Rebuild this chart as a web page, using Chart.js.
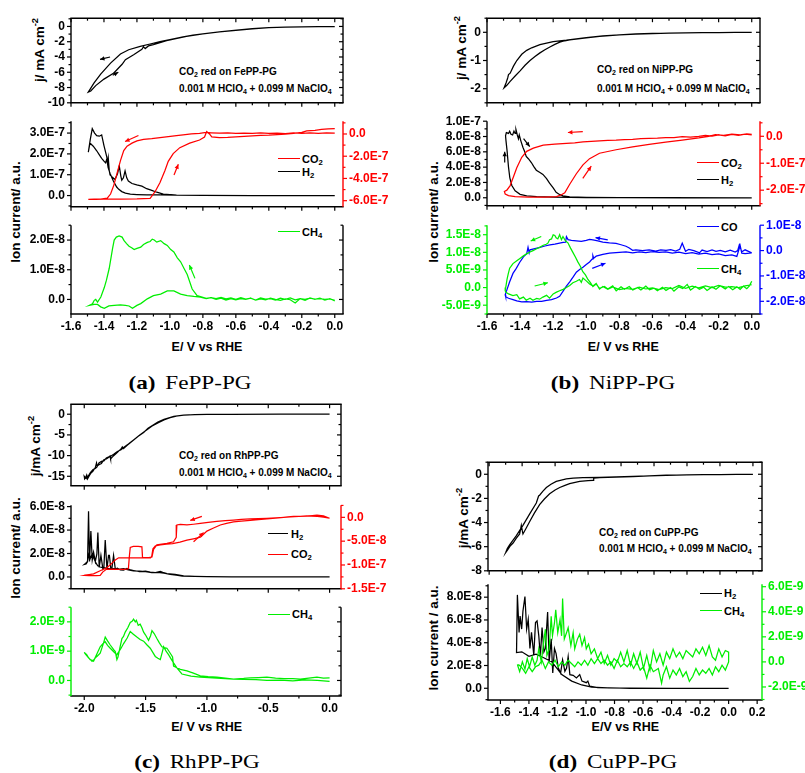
<!DOCTYPE html>
<html>
<head>
<meta charset="utf-8">
<script src="https://cdn.jsdelivr.net/npm/chart.js@4.4.1/dist/chart.umd.min.js"></script>
<style>
  body { margin: 0; width: 805px; height: 773px; position: relative; overflow: hidden; background: #fff;
         font-family: "Liberation Sans", Arial, Helvetica, sans-serif; }
  canvas { position: absolute; }
  .t { position: absolute; font-weight: bold; white-space: nowrap; color: #000; }
  .a10 { font-size: 10px; line-height: 14px; }
  .lgt { font-size: 11px; line-height: 14px; }
  .rot { font-size: 13.5px; transform: translate(-50%, -50%) rotate(-90deg); }
  .xt { font-size: 12.5px; transform: translate(-50%, -50%); }
  .cap { position: absolute; white-space: nowrap; font-family: "Liberation Serif", "Times New Roman", serif;
         font-size: 19px; transform: translate(-50%, -50%) scaleX(1.22); }
  .lg { position: absolute; height: 0; width: 22px; }
  sub { font-size: 70%; vertical-align: -0.25em; line-height: 0; }
  sup { font-size: 70%; vertical-align: 0.55em; line-height: 0; }
</style>
</head>
<body>

<!-- annotations in the current panels -->
<div class="t a10" style="left:179px;top:65px">CO<sub>2</sub> red on FePP-PG</div>
<div class="t a10" style="left:179px;top:82px">0.001 M HClO<sub>4</sub> + 0.099 M NaClO<sub>4</sub></div>
<div class="t a10" style="left:597px;top:63px">CO<sub>2</sub> red on NiPP-PG</div>
<div class="t a10" style="left:597px;top:81.5px">0.001 M HClO<sub>4</sub> + 0.099 M NaClO<sub>4</sub></div>
<div class="t a10" style="left:179px;top:449px">CO<sub>2</sub> red on RhPP-PG</div>
<div class="t a10" style="left:179px;top:466.3px">0.001 M HClO<sub>4</sub> + 0.099 M NaClO<sub>4</sub></div>
<div class="t a10" style="left:599px;top:525.7px">CO<sub>2</sub> red on CuPP-PG</div>
<div class="t a10" style="left:599px;top:542.3px">0.001 M HClO<sub>4</sub> + 0.099 M NaClO<sub>4</sub></div>

<!-- legends -->
<div class="lg" style="left:278px;top:158.4px;border-top:1.3px solid #ff0000"></div>
<div class="t lgt" style="left:302px;top:152px">CO<sub>2</sub></div>
<div class="lg" style="left:278px;top:171.4px;border-top:1.3px solid #000"></div>
<div class="t lgt" style="left:302px;top:165px">H<sub>2</sub></div>
<div class="lg" style="left:278px;top:231.4px;border-top:1.3px solid #00ee00"></div>
<div class="t lgt" style="left:302px;top:225px">CH<sub>4</sub></div>

<div class="lg" style="left:697px;top:162.4px;border-top:1.3px solid #ff0000"></div>
<div class="t lgt" style="left:721px;top:156px">CO<sub>2</sub></div>
<div class="lg" style="left:697px;top:179.4px;border-top:1.3px solid #000"></div>
<div class="t lgt" style="left:721px;top:173px">H<sub>2</sub></div>
<div class="lg" style="left:697px;top:226px;border-top:1.3px solid #0000ff"></div>
<div class="t lgt" style="left:721px;top:219.7px">CO</div>
<div class="lg" style="left:697px;top:268.4px;border-top:1.3px solid #00ee00"></div>
<div class="t lgt" style="left:721px;top:262px">CH<sub>4</sub></div>

<div class="lg" style="left:268px;top:533.4px;width:20px;border-top:1.3px solid #000"></div>
<div class="t lgt" style="left:291px;top:527px">H<sub>2</sub></div>
<div class="lg" style="left:268px;top:553.7px;width:20px;border-top:1.3px solid #ff0000"></div>
<div class="t lgt" style="left:291px;top:547.3px">CO<sub>2</sub></div>
<div class="lg" style="left:268px;top:613.7px;border-top:1.3px solid #00ee00"></div>
<div class="t lgt" style="left:292px;top:607.3px">CH<sub>4</sub></div>

<div class="lg" style="left:700px;top:592.7px;border-top:1.3px solid #000"></div>
<div class="t lgt" style="left:724px;top:586.3px">H<sub>2</sub></div>
<div class="lg" style="left:700px;top:610px;border-top:1.3px solid #00ee00"></div>
<div class="t lgt" style="left:724px;top:603.7px">CH<sub>4</sub></div>

<!-- axis titles -->
<div class="t rot" style="left:39px;top:50px">j/ mA cm<sup>-2</sup></div>
<div class="t rot" style="left:15px;top:212px">Ion current/ a.u.</div>
<div class="t rot" style="left:460.7px;top:48px">j/ mA cm<sup>-2</sup></div>
<div class="t rot" style="left:433px;top:212px">Ion current/ a.u.</div>
<div class="t rot" style="left:35px;top:446px">j/mA cm<sup>-2</sup></div>
<div class="t rot" style="left:15px;top:548px">Ion current/ a.u.</div>
<div class="t rot" style="left:463.3px;top:518px">j/mA cm<sup>-2</sup></div>
<div class="t rot" style="left:433.3px;top:638px">Ion current / a.u.</div>

<div class="t xt" style="left:207px;top:346.7px">E/ V vs RHE</div>
<div class="t xt" style="left:623.3px;top:346.7px">E/ V vs RHE</div>
<div class="t xt" style="left:206.7px;top:726.7px">E/ V vs RHE</div>
<div class="t xt" style="left:625.3px;top:727.3px">E/V vs RHE</div>

<!-- captions -->
<div class="cap" style="left:190px;top:382.7px"><b>(a)</b><span style="margin-left:8px">FePP-PG</span></div>
<div class="cap" style="left:613.3px;top:382.7px"><b>(b)</b><span style="margin-left:8px">NiPP-PG</span></div>
<div class="cap" style="left:196.7px;top:761.7px"><b>(c)</b><span style="margin-left:8px">RhPP-PG</span></div>
<div class="cap" style="left:613px;top:761.7px"><b>(d)</b><span style="margin-left:8px">CuPP-PG</span></div>

<script>
const RED = '#ff0000', GREEN = '#00ee00', BLUE = '#0000ff', BLACK = '#000000';
const FONT = '"Liberation Sans", Arial, Helvetica, sans-serif';

// ---------- tick labels ----------
const xTicksAB = [-1.6, -1.4, -1.2, -1.0, -0.8, -0.6, -0.4, -0.2, 0.0];
const xTicksC = [-2.0, -1.5, -1.0, -0.5, 0.0];
const xTicksD = [-1.6, -1.4, -1.2, -1.0, -0.8, -0.6, -0.4, -0.2, 0.0, 0.2];
const aTopTicks = [0, -2, -4, -6, -8, -10];
const aMidLTicks = [0, 1e-7, 2e-7, 3e-7];
const aMidRTicks = [0, -2e-7, -4e-7, -6e-7];
const aBotTicks = [0, 1e-8, 2e-8];
const bTopTicks = [0, -1, -2];
const bMidLTicks = [0, 2e-8, 4e-8, 6e-8, 8e-8, 1e-7];
const bMidRTicks = [0, -1e-7, -2e-7];
const bBotLTicks = [-5e-9, 0, 5e-9, 1e-8, 1.5e-8];
const bBotRTicks = [-2e-8, -1e-8, 0, 1e-8];
const cTopTicks = [0, -5, -10, -15];
const cMidLTicks = [0, 2e-8, 4e-8, 6e-8];
const cMidRTicks = [0, -5e-8, -1e-7, -1.5e-7];
const cBotTicks = [0, 1e-9, 2e-9];
const dTopTicks = [0, -2, -4, -6, -8];
const dBotLTicks = [0, 2e-8, 4e-8, 6e-8, 8e-8];
const dBotRTicks = [-2e-9, 0, 2e-9, 4e-9, 6e-9];

// ---------- (a) FePP-PG : [E / V, value] ----------
// j in mA cm-2
const aJ = [[0.00,-0.02],[-0.10,-0.03],[-0.20,-0.05],[-0.30,-0.09],[-0.40,-0.16],[-0.50,-0.30],[-0.61,-0.52],[-0.70,-0.72],[-0.80,-0.97],[-0.86,-1.12],[-0.92,-1.35],[-1.00,-1.72],[-1.06,-2.00],[-1.12,-2.30],[-1.18,-2.62],[-1.25,-3.05],[-1.30,-3.60],[-1.36,-4.80],[-1.42,-6.25],[-1.46,-7.40],[-1.495,-8.60],
  [-1.48,-8.45],[-1.45,-7.75],[-1.40,-6.90],[-1.34,-6.10],[-1.29,-4.95],[-1.27,-4.35],[-1.22,-3.70],[-1.17,-3.00],[-1.16,-2.65],[-1.15,-2.90],[-1.13,-2.55],[-1.10,-2.38],[-1.02,-1.85],[-0.90,-1.30],[-0.80,-0.99],[-0.70,-0.71],[-0.60,-0.50],[-0.50,-0.31],[-0.40,-0.17],[-0.30,-0.09],[-0.20,-0.05],[-0.10,-0.03],[0.00,-0.02]];
// H2 in 1E-7
const aH2 = [[0.00,0.00],[-0.50,0.00],[-0.80,0.01],[-0.96,0.02],[-1.06,0.03],[-1.14,0.03],[-1.20,0.05],[-1.24,0.07],[-1.27,0.12],[-1.292,0.19],[-1.31,0.30],[-1.323,0.41],[-1.343,0.70],[-1.363,1.06],[-1.375,1.35],[-1.383,1.75],[-1.39,1.57],[-1.40,1.65],[-1.414,1.79],[-1.43,1.98],[-1.444,2.15],[-1.465,2.37],[-1.485,2.52],[-1.495,2.08],
  [-1.483,2.70],[-1.471,3.21],[-1.457,3.00],[-1.444,2.88],[-1.428,2.85],[-1.414,2.91],[-1.40,2.40],[-1.383,1.86],[-1.378,1.55],[-1.374,1.80],[-1.368,1.20],[-1.363,0.99],[-1.345,0.85],[-1.333,0.77],[-1.318,1.05],[-1.307,1.42],[-1.298,0.95],[-1.292,0.74],[-1.282,0.85],[-1.272,1.18],[-1.262,0.85],[-1.252,0.70],[-1.23,0.58],[-1.201,0.51],[-1.17,0.45],[-1.141,0.33],[-1.11,0.25],[-1.08,0.16],[-1.04,0.07],[-0.96,0.02],[-0.80,0.01],[-0.50,0.00],[0.00,0.00]];
// CO2 in 1E-7 (right axis)
const aCO2 = [[0.00,0.08],[-0.05,0.10],[-0.10,0.05],[-0.15,0.09],[-0.20,0.06],[-0.25,0.10],[-0.30,0.04],[-0.35,0.08],[-0.40,0.05],[-0.45,0.09],[-0.50,0.05],[-0.55,0.08],[-0.60,0.06],[-0.65,0.09],[-0.70,0.07],[-0.75,0.11],[-0.78,0.14],[-0.82,0.06],[-0.87,0.00],[-0.92,-0.08],[-0.96,-0.15],[-1.01,-0.24],[-1.06,-0.33],[-1.11,-0.42],[-1.16,-0.48],[-1.20,-0.62],[-1.23,-0.82],[-1.26,-1.09],[-1.28,-1.50],[-1.30,-2.40],[-1.32,-3.50],[-1.34,-4.60],[-1.36,-5.40],[-1.38,-5.78],[-1.42,-5.85],[-1.46,-5.87],[-1.495,-5.88],
  [-1.45,-5.88],[-1.40,-5.87],[-1.30,-5.86],[-1.20,-5.84],[-1.12,-5.79],[-1.09,-5.19],[-1.06,-4.37],[-1.03,-3.28],[-1.01,-2.46],[-0.98,-1.77],[-0.94,-1.23],[-0.88,-0.82],[-0.82,-0.54],[-0.79,-0.27],[-0.777,0.22],[-0.76,0.00],[-0.746,-0.27],[-0.70,-0.33],[-0.65,-0.30],[-0.60,-0.25],[-0.55,-0.21],[-0.50,-0.16],[-0.45,-0.12],[-0.40,-0.10],[-0.35,-0.05],[-0.30,-0.02],[-0.25,0.05],[-0.20,0.15],[-0.17,0.28],[-0.12,0.33],[-0.08,0.42],[-0.04,0.45],[0.00,0.49]];
// CH4 in 1E-8
const aCH4 = [[0.00,-0.05],[-0.03,0.03],[-0.06,-0.02],[-0.09,0.04],[-0.12,0.00],[-0.15,0.05],[-0.18,-0.03],[-0.21,0.03],[-0.24,-0.01],[-0.27,0.05],[-0.30,0.00],[-0.33,0.04],[-0.36,-0.02],[-0.39,0.03],[-0.42,0.01],[-0.45,0.05],[-0.48,-0.02],[-0.51,0.04],[-0.54,0.01],[-0.57,0.06],[-0.60,0.00],[-0.63,0.05],[-0.66,0.02],[-0.69,0.07],[-0.72,0.03],[-0.75,0.06],[-0.78,0.04],[-0.81,0.09],[-0.835,0.13],[-0.865,0.35],[-0.895,0.84],[-0.915,1.05],[-0.935,1.27],[-0.955,1.40],[-0.976,1.60],[-0.995,1.68],[-1.016,1.82],[-1.035,1.88],[-1.056,1.98],[-1.08,1.93],[-1.095,2.00],[-1.107,2.03],[-1.12,1.95],[-1.137,1.92],[-1.16,1.85],[-1.177,1.76],[-1.20,1.72],[-1.217,1.68],[-1.232,1.74],[-1.248,1.79],[-1.263,1.88],[-1.278,1.98],[-1.29,2.10],[-1.308,2.14],[-1.325,2.10],[-1.338,2.00],[-1.348,1.71],[-1.368,1.05],[-1.385,0.65],[-1.398,0.40],[-1.419,0.08],[-1.439,-0.09],[-1.45,0.00],[-1.459,-0.03],[-1.47,-0.15],[-1.489,-0.20],
  [-1.46,-0.17],[-1.439,-0.17],[-1.42,-0.25],[-1.398,-0.30],[-1.37,-0.22],[-1.338,-0.20],[-1.30,-0.18],[-1.27,-0.20],[-1.248,-0.22],[-1.227,-0.30],[-1.20,-0.20],[-1.177,-0.14],[-1.137,0.02],[-1.10,0.13],[-1.056,0.18],[-1.016,0.29],[-0.976,0.29],[-0.935,0.18],[-0.895,0.13],[-0.855,0.10],[-0.815,0.08],[-0.78,0.03],[-0.75,0.06],[-0.72,0.00],[-0.69,0.04],[-0.66,-0.02],[-0.63,0.03],[-0.60,-0.01],[-0.57,0.03],[-0.54,0.00],[-0.51,0.04],[-0.48,-0.02],[-0.45,0.02],[-0.42,-0.01],[-0.39,0.04],[-0.36,0.00],[-0.33,-0.03],[-0.30,0.02],[-0.27,-0.01],[-0.24,-0.12],[-0.21,0.03],[-0.18,0.00],[-0.15,0.04],[-0.12,0.01],[-0.09,0.03],[-0.06,0.00],[-0.03,0.02],[0.00,-0.03]];
const aArrJ = [[-1.363,-4.0,-1.424,-4.32],[-1.347,-6.4,-1.313,-6.0]];
const aArrCO2 = [[-1.191,-0.13,-1.272,-0.68],[-0.975,-3.69,-0.949,-2.73]];
const aArrCH4 = [[-0.848,0.71,-0.882,1.16]];

// ---------- (b) NiPP-PG ----------
const bJ = [[0.00,0.00],[-0.10,-0.005],[-0.20,-0.01],[-0.30,-0.015],[-0.40,-0.02],[-0.50,-0.03],[-0.60,-0.04],[-0.70,-0.06],[-0.80,-0.09],[-0.90,-0.13],[-1.00,-0.19],[-1.06,-0.23],[-1.12,-0.28],[-1.20,-0.33],[-1.28,-0.44],[-1.33,-0.55],[-1.36,-0.64],[-1.39,-0.78],[-1.42,-1.00],[-1.44,-1.20],[-1.46,-1.45],[-1.47,-1.50],[-1.475,-1.62],[-1.485,-1.80],[-1.497,-1.97],
  [-1.48,-1.88],[-1.46,-1.74],[-1.43,-1.55],[-1.40,-1.37],[-1.37,-1.17],[-1.34,-1.00],[-1.31,-0.86],[-1.28,-0.73],[-1.25,-0.62],[-1.22,-0.52],[-1.19,-0.43],[-1.16,-0.35],[-1.13,-0.30],[-1.10,-0.27],[-1.00,-0.20],[-0.92,-0.145],[-0.80,-0.095],[-0.70,-0.065],[-0.60,-0.045],[-0.50,-0.03],[-0.40,-0.022],[-0.30,-0.015],[-0.20,-0.01],[-0.10,-0.005],[0.00,0.00]];
// H2 in 1E-8
const bH2 = [[0.00,0.00],[-0.40,0.00],[-0.80,0.02],[-1.00,0.03],[-1.10,0.05],[-1.20,0.08],[-1.30,0.15],[-1.36,0.25],[-1.40,0.45],[-1.43,0.90],[-1.45,1.60],[-1.462,2.60],[-1.47,4.00],[-1.478,6.00],[-1.485,7.40],[-1.488,8.10],[-1.483,8.50],[-1.47,8.40],[-1.463,8.70],[-1.455,8.30],[-1.445,8.20],[-1.437,8.70],[-1.43,8.40],[-1.425,8.90],[-1.418,8.30],[-1.41,7.70],[-1.405,8.20],[-1.395,7.40],[-1.383,6.60],[-1.372,6.00],[-1.363,5.40],[-1.35,5.10],[-1.332,4.60],[-1.318,4.10],[-1.302,3.60],[-1.28,3.30],[-1.262,3.05],[-1.24,2.50],[-1.222,1.90],[-1.20,1.30],[-1.182,0.70],[-1.16,0.40],[-1.141,0.25],[-1.10,0.12],[-1.00,0.06],[-0.80,0.03],[-0.50,0.01],[0.00,0.00]];
// CO2 in 1E-7 (right axis)
const bCO2 = [[0.00,0.05],[-0.04,0.08],[-0.08,0.03],[-0.12,0.07],[-0.16,0.02],[-0.20,0.05],[-0.24,0.01],[-0.28,0.03],[-0.32,0.00],[-0.37,-0.03],[-0.42,-0.01],[-0.47,-0.05],[-0.52,-0.05],[-0.57,-0.07],[-0.62,-0.08],[-0.67,-0.09],[-0.72,-0.11],[-0.77,-0.12],[-0.82,-0.14],[-0.87,-0.15],[-0.92,-0.17],[-0.97,-0.19],[-1.02,-0.21],[-1.07,-0.24],[-1.12,-0.26],[-1.19,-0.29],[-1.26,-0.33],[-1.32,-0.44],[-1.36,-0.56],[-1.39,-0.78],[-1.42,-1.17],[-1.44,-1.50],[-1.46,-1.83],[-1.48,-2.00],[-1.495,-2.05],[-1.49,-2.14],[-1.47,-2.20],[-1.43,-2.24],[-1.35,-2.26],[-1.25,-2.26],[-1.18,-2.24],[-1.15,-2.17],[-1.13,-2.10],[-1.10,-1.78],[-1.06,-1.39],[-1.02,-1.06],[-0.98,-0.83],[-0.92,-0.63],[-0.82,-0.50],[-0.72,-0.39],[-0.62,-0.30],[-0.52,-0.22],[-0.42,-0.14],[-0.32,-0.06],[-0.26,0.00],[-0.22,0.06],[-0.17,0.03],[-0.12,0.08],[-0.07,0.05],[-0.03,0.09],[0.00,0.07]];
// CH4 in 1E-9
const bCH4 = [[0.00,1.8],[-0.014,0.5],[-0.03,-0.3],[-0.05,0.4],[-0.07,-0.5],[-0.09,0.2],[-0.115,-0.6],[-0.14,0.3],[-0.16,-0.4],[-0.19,0.5],[-0.216,-0.5],[-0.24,0.2],[-0.27,-0.8],[-0.29,0.1],[-0.316,-0.5],[-0.34,0.3],[-0.37,-0.7],[-0.39,0.9],[-0.417,-0.3],[-0.44,0.2],[-0.47,-1.0],[-0.49,0.0],[-0.518,-0.8],[-0.54,0.1],[-0.57,-0.9],[-0.59,-0.2],[-0.618,-0.6],[-0.64,0.4],[-0.67,-0.7],[-0.69,0.0],[-0.719,-0.7],[-0.74,0.3],[-0.77,-0.5],[-0.79,0.2],[-0.819,-0.9],[-0.84,0.5],[-0.87,-0.4],[-0.89,0.3],[-0.92,-0.2],[-0.94,1.0],[-0.96,0.3],[-0.975,1.4],[-0.99,2.3],[-1.005,3.6],[-1.021,4.5],[-1.035,6.0],[-1.051,7.3],[-1.065,8.6],[-1.081,10.0],[-1.095,11.2],[-1.111,12.7],[-1.125,13.2],[-1.141,14.5],[-1.15,13.6],[-1.161,15.0],[-1.172,13.8],[-1.182,14.1],[-1.19,14.8],[-1.20,15.0],[-1.21,13.8],[-1.222,13.6],[-1.232,12.6],[-1.242,12.3],[-1.26,12.0],[-1.282,11.4],[-1.30,11.0],[-1.322,10.5],[-1.34,10.1],[-1.363,9.5],[-1.38,9.0],[-1.403,8.2],[-1.42,7.6],[-1.443,6.8],[-1.455,6.0],[-1.463,5.5],[-1.472,3.8],[-1.479,2.3],[-1.487,0.0],[-1.49,-0.9],
  [-1.485,-1.36],[-1.47,-1.8],[-1.443,-2.3],[-1.42,-2.0],[-1.403,-3.2],[-1.38,-2.7],[-1.363,-3.6],[-1.34,-3.0],[-1.322,-3.6],[-1.30,-3.1],[-1.282,-3.3],[-1.262,-2.7],[-1.24,-2.2],[-1.222,-3.0],[-1.20,-1.8],[-1.18,-1.3],[-1.161,-0.9],[-1.14,-0.5],[-1.12,0.0],[-1.10,0.6],[-1.081,1.36],[-1.06,1.8],[-1.041,2.3],[-1.03,1.5],[-1.02,2.7],[-1.00,1.9],[-0.98,1.0],[-0.96,0.45],[-0.94,1.2],[-0.92,-0.45],[-0.90,0.3],[-0.87,-0.5],[-0.84,0.2],[-0.80,-0.6],[-0.76,-0.2],[-0.72,-0.5],[-0.68,0.1],[-0.64,-0.4],[-0.60,-0.1],[-0.56,-0.6],[-0.52,0.0],[-0.48,-0.3],[-0.44,0.6],[-0.40,-0.2],[-0.36,0.4],[-0.32,-0.1],[-0.28,0.5],[-0.24,0.0],[-0.20,0.6],[-0.16,0.1],[-0.12,0.3],[-0.08,0.0],[-0.04,0.5],[0.00,0.8]];
// CO in 1E-8 (right axis)
const bCO = [[0.00,-0.09],[-0.02,-0.03],[-0.04,0.03],[-0.06,-0.05],[-0.075,0.23],[-0.085,0.00],[-0.10,-0.06],[-0.13,0.02],[-0.16,-0.05],[-0.19,0.01],[-0.216,-0.03],[-0.24,0.03],[-0.27,-0.04],[-0.30,0.02],[-0.316,-0.09],[-0.35,0.00],[-0.38,0.05],[-0.40,-0.03],[-0.42,0.29],[-0.435,0.05],[-0.46,-0.02],[-0.49,0.04],[-0.518,0.01],[-0.55,0.03],[-0.58,-0.02],[-0.62,0.03],[-0.66,0.00],[-0.70,0.03],[-0.72,0.01],[-0.74,0.10],[-0.76,0.17],[-0.79,0.23],[-0.82,0.28],[-0.86,0.30],[-0.90,0.33],[-0.93,0.38],[-0.96,0.42],[-0.98,0.44],[-1.00,0.40],[-1.03,0.36],[-1.06,0.38],[-1.09,0.40],[-1.11,0.43],[-1.12,0.55],[-1.125,0.33],[-1.14,0.32],[-1.161,0.29],[-1.19,0.25],[-1.22,0.22],[-1.25,0.18],[-1.28,0.13],[-1.31,0.08],[-1.34,0.03],[-1.345,-0.09],[-1.352,0.13],[-1.36,-0.12],[-1.38,-0.25],[-1.403,-0.47],[-1.423,-0.70],[-1.443,-0.90],[-1.463,-1.23],[-1.483,-1.61],[-1.49,-1.74],
  [-1.487,-1.82],[-1.47,-1.88],[-1.443,-1.93],[-1.42,-1.98],[-1.39,-2.02],[-1.36,-2.01],[-1.33,-2.03],[-1.30,-2.00],[-1.27,-2.00],[-1.24,-1.96],[-1.21,-1.93],[-1.18,-1.87],[-1.161,-1.80],[-1.141,-1.61],[-1.12,-1.40],[-1.10,-1.23],[-1.08,-1.05],[-1.06,-0.85],[-1.04,-0.75],[-1.02,-0.66],[-1.00,-0.55],[-0.98,-0.45],[-0.965,-0.34],[-0.96,-0.20],[-0.955,-0.30],[-0.94,-0.22],[-0.90,-0.15],[-0.86,-0.10],[-0.82,-0.08],[-0.78,-0.06],[-0.76,-0.05],[-0.72,-0.09],[-0.68,-0.05],[-0.64,-0.08],[-0.60,-0.04],[-0.56,-0.07],[-0.52,-0.05],[-0.48,-0.10],[-0.44,-0.06],[-0.40,-0.12],[-0.36,-0.08],[-0.32,-0.14],[-0.28,-0.10],[-0.24,-0.16],[-0.20,-0.13],[-0.16,-0.20],[-0.12,-0.17],[-0.09,-0.23],[-0.07,0.20],[-0.06,-0.10],[-0.04,-0.12],[0.00,-0.09]];
const bArrCO2 = [[-1.021,0.17,-1.111,0.14],[-1.021,-1.56,-0.970,-1.11]];
const bArrH2 = [[-1.493,4.6,-1.493,6.0],[-1.379,7.73,-1.342,6.68]];
const bArrCH4 = [[-1.272,14.5,-1.336,13.2],[-1.312,0.45,-1.232,1.36]];
const bArrCO = [[-0.87,0.42,-0.944,0.51],[-0.964,-0.70,-0.884,-0.50]];

// ---------- (c) RhPP-PG ----------
const cJ = [[0.00,0.00],[-0.40,0.00],[-0.80,-0.02],[-1.00,-0.05],[-1.10,-0.10],[-1.19,-0.22],[-1.27,-0.51],[-1.35,-1.24],[-1.40,-1.90],[-1.435,-2.56],[-1.48,-3.40],[-1.516,-4.40],[-1.56,-5.30],[-1.598,-6.20],[-1.64,-7.20],[-1.679,-8.05],[-1.70,-8.60],[-1.73,-9.00],[-1.76,-9.70],[-1.788,-10.20],[-1.80,-10.30],[-1.82,-10.60],[-1.84,-11.30],[-1.86,-11.40],[-1.88,-11.80],[-1.897,-12.80],[-1.91,-13.10],[-1.93,-13.40],[-1.95,-14.10],[-1.96,-14.60],[-1.975,-15.30],[-1.98,-14.70],[-1.99,-15.40],[-2.00,-15.00],
  [-1.997,-15.60],[-1.985,-15.20],[-1.975,-15.70],[-1.96,-14.90],[-1.945,-14.20],[-1.93,-13.80],[-1.91,-12.90],[-1.90,-11.80],[-1.895,-12.50],[-1.88,-12.20],[-1.86,-11.90],[-1.84,-11.00],[-1.82,-10.80],[-1.80,-10.40],[-1.79,-10.10],[-1.785,-10.80],[-1.77,-10.30],[-1.74,-9.50],[-1.70,-8.40],[-1.69,-7.90],[-1.68,-8.30],[-1.65,-7.50],[-1.60,-6.30],[-1.55,-5.10],[-1.50,-4.00],[-1.45,-2.90],[-1.40,-2.10],[-1.35,-1.40],[-1.30,-0.85],[-1.25,-0.45],[-1.20,-0.25],[-1.10,-0.10],[-1.00,-0.05],[-0.80,-0.02],[-0.40,0.00],[0.00,0.00]];
// H2 in 1E-8
const cH2 = [[0.00,0.00],[-0.50,0.00],[-0.80,0.01],[-1.00,0.03],[-1.10,0.06],[-1.19,0.10],[-1.26,0.22],[-1.326,0.29],[-1.36,0.40],[-1.38,0.47],[-1.42,0.38],[-1.462,0.42],[-1.50,0.50],[-1.55,0.45],[-1.598,0.55],[-1.63,0.62],[-1.652,0.73],[-1.68,0.58],[-1.706,0.60],[-1.73,0.75],[-1.747,0.68],[-1.761,1.84],[-1.775,0.70],[-1.783,0.68],[-1.795,1.84],[-1.802,1.84],[-1.815,0.68],[-1.829,3.14],[-1.84,0.80],[-1.848,0.68],[-1.864,1.84],[-1.878,0.81],[-1.889,3.79],[-1.897,1.97],[-1.91,1.32],[-1.924,2.10],[-1.935,1.45],[-1.946,3.92],[-1.957,1.32],[-1.965,5.60],[-1.973,1.32],[-1.985,1.10],[-2.00,1.06],
  [-1.99,1.15],[-1.975,1.30],[-1.96,2.05],[-1.95,1.60],[-1.935,2.00],[-1.92,1.55],[-1.905,1.20],[-1.89,0.95],[-1.87,0.85],[-1.85,0.80],[-1.82,0.75],[-1.79,0.70],[-1.76,0.72],[-1.72,0.65],[-1.68,0.70],[-1.64,0.60],[-1.60,0.52],[-1.55,0.50],[-1.50,0.45],[-1.45,0.38],[-1.40,0.40],[-1.35,0.33],[-1.30,0.22],[-1.25,0.15],[-1.20,0.08],[-1.10,0.04],[-1.00,0.02],[-0.80,0.01],[-0.50,0.00],[0.00,0.00]];
// CO2 in 1E-8 (right axis)
const cCO2 = [[0.00,-0.19],[-0.05,0.05],[-0.10,0.19],[-0.15,0.28],[-0.185,0.32],[-0.24,0.22],[-0.294,0.19],[-0.34,0.08],[-0.375,0.00],[-0.44,-0.10],[-0.511,-0.19],[-0.58,-0.25],[-0.647,-0.32],[-0.72,-0.45],[-0.783,-0.58],[-0.85,-0.70],[-0.919,-0.83],[-0.99,-1.05],[-1.054,-1.28],[-1.11,-1.45],[-1.163,-1.60],[-1.217,-1.47],[-1.245,-1.60],[-1.25,-4.17],[-1.272,-5.13],[-1.326,-5.45],[-1.408,-5.77],[-1.435,-6.73],[-1.448,-8.33],[-1.489,-8.53],[-1.55,-8.53],[-1.598,-8.53],[-1.679,-8.53],[-1.72,-8.50],[-1.747,-8.97],[-1.761,-9.29],[-1.79,-10.0],[-1.815,-10.58],[-1.87,-11.22],[-1.924,-11.86],[-1.96,-12.0],[-2.00,-12.18],
  [-1.96,-12.25],[-1.90,-12.25],[-1.87,-12.20],[-1.85,-11.50],[-1.82,-10.90],[-1.78,-10.85],[-1.72,-10.90],[-1.67,-10.90],[-1.64,-10.80],[-1.633,-8.40],[-1.625,-6.30],[-1.60,-6.10],[-1.56,-6.10],[-1.53,-6.20],[-1.525,-8.40],[-1.46,-8.50],[-1.45,-8.20],[-1.44,-6.60],[-1.42,-6.00],[-1.38,-5.80],[-1.33,-5.60],[-1.28,-5.50],[-1.22,-5.20],[-1.163,-4.80],[-1.10,-4.45],[-1.054,-4.17],[-1.03,-3.60],[-1.00,-2.88],[-0.946,-2.24],[-0.891,-1.60],[-0.84,-1.25],[-0.783,-0.96],[-0.72,-0.80],[-0.647,-0.64],[-0.58,-0.48],[-0.511,-0.32],[-0.44,-0.15],[-0.375,0.00],[-0.32,0.10],[-0.25,0.19],[-0.18,0.28],[-0.103,0.45],[-0.05,0.30],[0.00,-0.19]];
// CH4 in 1E-9
const cCH4 = [[0.00,-0.03],[-0.10,0.00],[-0.20,0.02],[-0.30,-0.01],[-0.40,0.01],[-0.511,0.00],[-0.60,0.03],[-0.70,0.04],[-0.783,0.05],[-0.85,0.08],[-0.919,0.11],[-0.99,0.13],[-1.054,0.16],[-1.11,0.25],[-1.163,0.33],[-1.217,0.38],[-1.272,0.49],[-1.28,0.80],[-1.299,0.93],[-1.326,1.10],[-1.35,1.12],[-1.367,1.15],[-1.39,1.30],[-1.408,1.43],[-1.43,1.60],[-1.448,1.70],[-1.46,1.52],[-1.476,1.37],[-1.50,1.55],[-1.516,1.65],[-1.53,1.80],[-1.544,1.92],[-1.56,1.88],[-1.575,2.05],[-1.584,2.00],[-1.598,2.09],[-1.61,2.02],[-1.625,1.98],[-1.645,1.80],[-1.666,1.65],[-1.68,1.50],[-1.693,1.43],[-1.71,1.10],[-1.725,0.80],[-1.734,0.71],[-1.747,0.99],[-1.76,1.05],[-1.788,1.21],[-1.81,1.35],[-1.829,1.48],[-1.845,1.25],[-1.87,0.93],[-1.897,0.82],[-1.92,0.72],[-1.938,0.66],[-1.951,0.72],[-1.965,0.77],[-1.98,0.88],[-2.00,0.96],
  [-1.99,0.90],[-1.97,0.80],[-1.951,0.71],[-1.924,0.66],[-1.90,0.88],[-1.87,1.15],[-1.85,1.25],[-1.829,1.32],[-1.81,1.20],[-1.788,1.10],[-1.76,0.98],[-1.734,0.88],[-1.70,1.10],[-1.679,1.26],[-1.65,1.45],[-1.625,1.67],[-1.60,1.58],[-1.571,1.48],[-1.545,1.40],[-1.516,1.34],[-1.49,1.22],[-1.462,1.10],[-1.44,0.95],[-1.421,0.82],[-1.40,0.76],[-1.38,0.71],[-1.365,0.95],[-1.353,1.15],[-1.333,1.00],[-1.313,0.88],[-1.29,0.72],[-1.272,0.60],[-1.24,0.40],[-1.204,0.22],[-1.13,0.15],[-1.054,0.11],[-0.92,0.08],[-0.783,0.05],[-0.70,0.07],[-0.647,0.09],[-0.58,0.10],[-0.511,0.11],[-0.44,0.08],[-0.37,0.06],[-0.30,0.06],[-0.239,0.05],[-0.17,0.08],[-0.103,0.11],[-0.05,0.08],[0.00,0.09]];
const cArrCO2 = [[-1.041,0.19,-1.136,-0.64],[-1.109,-5.13,-1.027,-3.2]];

// ---------- (d) CuPP-PG ----------
const dJ = [[0.00,0.00],[-0.10,-0.01],[-0.20,-0.02],[-0.30,-0.04],[-0.40,-0.055],[-0.526,-0.08],[-0.63,-0.13],[-0.728,-0.18],[-0.83,-0.22],[-0.93,-0.26],[-1.031,-0.28],[-1.09,-0.32],[-1.132,-0.38],[-1.193,-0.59],[-1.225,-0.82],[-1.253,-1.10],[-1.275,-1.42],[-1.294,-1.74],[-1.30,-1.80],[-1.314,-2.38],[-1.354,-3.28],[-1.395,-4.23],[-1.435,-5.08],[-1.455,-5.45],[-1.476,-5.85],[-1.49,-6.15],[-1.50,-6.49],
  [-1.49,-6.30],[-1.473,-5.95],[-1.455,-5.70],[-1.435,-5.30],[-1.415,-4.95],[-1.405,-4.23],[-1.395,-4.95],[-1.375,-4.45],[-1.354,-3.92],[-1.325,-3.20],[-1.294,-2.51],[-1.265,-2.05],[-1.233,-1.62],[-1.20,-1.30],[-1.172,-1.10],[-1.14,-0.92],[-1.112,-0.77],[-1.051,-0.59],[-1.00,-0.53],[-0.97,-0.51],[-0.966,-0.33],[-0.93,-0.27],[-0.83,-0.23],[-0.728,-0.19],[-0.63,-0.14],[-0.526,-0.09],[-0.40,-0.06],[-0.30,-0.04],[-0.20,-0.02],[-0.10,-0.01],[0.00,0.00]];
// H2 in 1E-8
const dH2 = [[0.00,0.00],[-0.40,0.00],[-0.70,0.01],[-0.85,0.03],[-0.96,0.11],[-1.03,0.29],[-1.10,0.63],[-1.17,1.20],[-1.24,2.34],[-1.30,2.70],[-1.35,3.00],[-1.40,2.80],[-1.45,3.20],[-1.487,3.14],
  [-1.481,8.20],[-1.469,4.91],[-1.462,6.34],[-1.451,5.20],[-1.442,6.77],[-1.428,8.06],[-1.416,5.20],[-1.405,6.06],[-1.393,3.49],[-1.382,4.91],[-1.366,2.91],[-1.354,5.77],[-1.343,5.91],[-1.331,4.63],[-1.32,2.77],[-1.308,5.34],[-1.295,3.20],[-1.285,3.49],[-1.269,6.69],[-1.258,2.34],[-1.244,4.34],[-1.233,1.34],[-1.221,3.49],[-1.21,3.06],[-1.194,1.77],[-1.178,1.34],[-1.164,2.49],[-1.148,1.49],[-1.136,1.77],[-1.125,2.77],[-1.113,1.20],[-1.09,1.14],[-1.067,0.91],[-1.044,1.20],[-1.028,0.63],[-0.998,0.49],[-0.987,0.63],[-0.975,0.20],[-0.918,0.06],[-0.688,0.00],[0.00,0.00]];
// CH4 in 1E-9 (right axis)
const dCH4 = [[-1.481,-0.21],[-1.465,-0.78],[-1.446,0.00],[-1.428,-0.57],[-1.412,0.26],[-1.396,-0.39],[-1.377,0.39],[-1.359,-0.26],[-1.343,0.13],[-1.331,1.04],[-1.313,0.00],[-1.297,1.56],[-1.285,2.60],[-1.274,0.52],[-1.258,1.04],[-1.244,3.64],[-1.235,2.08],[-1.221,3.12],[-1.212,4.16],[-1.198,2.34],[-1.182,3.38],[-1.171,2.08],[-1.164,5.06],[-1.152,1.82],[-1.136,2.34],[-1.125,2.73],[-1.106,1.30],[-1.09,2.34],[-1.079,1.04],[-1.06,1.82],[-1.044,2.21],[-1.028,1.30],[-1.01,1.95],[-0.998,1.04],[-0.982,1.43],[-0.964,0.65],[-0.941,1.04],[-0.918,0.26],[-0.895,0.78],[-0.872,-0.13],[-0.849,0.52],[-0.826,-0.26],[-0.803,0.26],[-0.78,0.00],[-0.757,0.78],[-0.734,0.00],[-0.711,0.91],[-0.688,-0.26],[-0.666,0.65],[-0.643,-0.13],[-0.62,0.78],[-0.597,-0.52],[-0.574,0.52],[-0.551,-0.65],[-0.528,0.91],[-0.505,0.00],[-0.482,0.65],[-0.459,-0.26],[-0.436,0.78],[-0.413,0.26],[-0.39,1.04],[-0.367,0.39],[-0.344,0.78],[-0.321,0.26],[-0.298,0.91],[-0.275,0.65],[-0.252,0.39],[-0.229,1.04],[-0.206,0.65],[-0.183,1.17],[-0.16,0.52],[-0.137,1.30],[-0.114,0.39],[-0.092,0.13],[-0.069,1.04],[-0.046,0.39],[-0.023,0.91],[0.00,0.78],
  [0.00,0.00],[-0.023,-0.65],[-0.046,-0.26],[-0.069,-0.78],[-0.092,-0.39],[-0.114,-1.04],[-0.137,-0.52],[-0.16,-0.91],[-0.183,-0.65],[-0.206,-1.04],[-0.229,-0.52],[-0.252,-1.17],[-0.275,-1.56],[-0.298,-0.78],[-0.321,-1.17],[-0.344,-0.52],[-0.367,-1.04],[-0.39,-0.65],[-0.413,-1.30],[-0.436,-0.39],[-0.459,-1.04],[-0.47,-1.69],[-0.493,-0.52],[-0.528,-0.78],[-0.551,-0.26],[-0.574,-1.30],[-0.597,-0.39],[-0.62,-0.65],[-0.643,0.00],[-0.666,-0.52],[-0.688,0.00],[-0.711,-0.39],[-0.734,-0.13],[-0.757,-0.39],[-0.78,0.13],[-0.803,-0.52],[-0.826,0.00],[-0.849,-0.26],[-0.872,0.13],[-0.895,-0.13],[-0.918,0.26],[-0.941,-0.13],[-0.964,0.26],[-0.987,-0.26],[-1.01,0.13],[-1.033,-0.26],[-1.056,0.00],[-1.079,-0.39],[-1.102,-0.13],[-1.125,0.13],[-1.148,-0.26],[-1.171,0.00],[-1.194,-0.39],[-1.217,0.13],[-1.24,-0.26],[-1.263,0.00],[-1.285,-0.52],[-1.308,0.13],[-1.331,-0.26],[-1.354,-0.39],[-1.377,-0.78],[-1.40,-0.39],[-1.423,-0.91],[-1.446,-0.52],[-1.469,-0.26],[-1.481,-0.21]];

// ---------- helpers ----------
function fmtSci(v) {
  if (Math.abs(v) < 1e-20) return '0.0';
  const e = Math.floor(Math.log10(Math.abs(v)) + 1e-9);
  return (v / Math.pow(10, e)).toFixed(1) + 'E' + e;
}
const fmtInt = v => String(Math.round(v));
const fmtX = v => (Math.abs(v) < 1e-9 ? 0 : v).toFixed(1);

function minorTicks(major, min, max) {
  const s = Math.abs(major[1] - major[0]), eps = s * 1e-3;
  let v = Math.min(...major) - s / 2;
  while (v - s >= min - eps) v -= s;
  const out = [];
  for (; v <= max + eps; v += s) if (v >= min - eps) out.push(v);
  return out;
}

function framePlugin(p) {
  return {
    id: 'frame',
    afterDatasetsDraw(chart) {
      const { ctx } = chart;
      ctx.save();
      (p.arrows || []).forEach(g => {
        const sy = chart.scales[g.axis], sx = chart.scales.x;
        g.list.forEach(([e1, v1, e2, v2]) => {
          const x1 = sx.getPixelForValue(e1), y1 = sy.getPixelForValue(v1 * g.k);
          const x2 = sx.getPixelForValue(e2), y2 = sy.getPixelForValue(v2 * g.k);
          const ang = Math.atan2(y2 - y1, x2 - x1), h = 5;
          ctx.strokeStyle = g.color; ctx.fillStyle = g.color; ctx.lineWidth = 1.2;
          ctx.beginPath(); ctx.moveTo(x1, y1); ctx.lineTo(x2, y2); ctx.stroke();
          ctx.beginPath(); ctx.moveTo(x2, y2);
          ctx.lineTo(x2 - h * Math.cos(ang - 0.45), y2 - h * Math.sin(ang - 0.45));
          ctx.lineTo(x2 - h * Math.cos(ang + 0.45), y2 - h * Math.sin(ang + 0.45));
          ctx.closePath(); ctx.fill();
        });
      });
      ctx.restore();
    },
    afterDraw(chart) {
      const { ctx, chartArea: a, scales: s } = chart;
      ctx.save();
      ctx.lineWidth = 1.4;
      const line = (x1, y1, x2, y2, c) => {
        ctx.strokeStyle = c; ctx.beginPath(); ctx.moveTo(x1, y1); ctx.lineTo(x2, y2); ctx.stroke();
      };
      const rc = p.yR ? p.yR.color : BLACK;
      line(a.left - 0.7, a.bottom, a.right + 0.7, a.bottom, BLACK);
      if (p.top) line(a.left - 0.7, a.top, a.right + 0.7, a.top, BLACK);
      line(a.left, a.top, a.left, a.bottom, p.yL.color);
      line(a.right, a.top, a.right, a.bottom, rc);

      ctx.lineWidth = 1.2;
      const xMin = minorTicks(p.xTicks, s.x.min, s.x.max);
      const xt = (vals, len, y) => vals.forEach(v => { const x = s.x.getPixelForValue(v); line(x, y, x, y + len, BLACK); });
      xt(p.xTicks, 4, a.bottom); xt(xMin, 2.5, a.bottom);
      if (p.top) { xt(p.xTicks, 4, a.top); xt(xMin, 2.5, a.top); }

      const yt = (sc, vals, len, x, dir, c) => vals.forEach(v => { const y = sc.getPixelForValue(v); line(x, y, x + dir * len, y, c); });
      const yLMin = minorTicks(p.yL.ticks, s.yL.min, s.yL.max);
      yt(s.yL, p.yL.ticks, 4, a.left, -1, p.yL.color); yt(s.yL, yLMin, 2.5, a.left, -1, p.yL.color);
      if (p.yR) {
        const yRMin = minorTicks(p.yR.ticks, s.yR.min, s.yR.max);
        yt(s.yR, p.yR.ticks, 4, a.right, 1, rc); yt(s.yR, yRMin, 2.5, a.right, 1, rc);
      } else {
        yt(s.yL, p.yL.ticks, 4, a.right, -1, rc); yt(s.yL, yLMin, 2.5, a.right, -1, rc);
      }
      ctx.restore();
    }
  };
}

function yScale(ax, pos, width) {
  return {
    type: 'linear', position: pos, min: ax.range[0], max: ax.range[1],
    afterFit: sc => { sc.width = width; },
    afterBuildTicks: sc => { sc.ticks = ax.ticks.map(v => ({ value: v })); },
    grid: { display: false, drawTicks: false }, border: { display: false },
    ticks: { color: ax.color, padding: 6, autoSkip: false,
             font: { family: FONT, size: 12, weight: 'bold' }, callback: v => ax.fmt(v) }
  };
}

function makePanel(p) {
  const [l, t, r, b] = p.box;
  const wl = 66, wr = p.yR ? 66 : 12, pt = 10, pb = p.xLabels ? 26 : 8;
  const W = Math.round(r - l + wl + wr), H = Math.round(b - t + pt + pb);
  const cv = document.createElement('canvas');
  cv.width = W; cv.height = H;
  cv.style.left = (l - wl) + 'px'; cv.style.top = (t - pt) + 'px';
  cv.style.width = W + 'px'; cv.style.height = H + 'px';
  document.body.appendChild(cv);

  const scales = {
    x: {
      type: 'linear', position: 'bottom', min: p.x[0], max: p.x[1],
      afterFit: sc => { sc.height = pb; },
      afterBuildTicks: sc => { sc.ticks = p.xTicks.map(v => ({ value: v })); },
      grid: { display: false, drawTicks: false }, border: { display: false },
      ticks: { display: !!p.xLabels, color: BLACK, padding: 5, autoSkip: false, maxRotation: 0,
               font: { family: FONT, size: 12, weight: 'bold' }, callback: v => fmtX(v) }
    },
    yL: yScale(p.yL, 'left', wl)
  };
  if (p.yR) scales.yR = yScale(p.yR, 'right', wr);

  new Chart(cv, {
    type: 'scatter',
    data: {
      datasets: p.series.map(sr => ({
        data: sr.data.map(([e, v]) => ({ x: e, y: v * sr.k })),
        yAxisID: sr.axis, borderColor: sr.color, backgroundColor: sr.color,
        borderWidth: 1.25, showLine: true, pointRadius: 0, tension: 0, fill: false
      }))
    },
    options: {
      responsive: false, animation: false, devicePixelRatio: 1,
      layout: { padding: { top: pt, left: 0, bottom: 0, right: p.yR ? 0 : wr } },
      plugins: { legend: { display: false }, tooltip: { enabled: false } },
      scales
    },
    plugins: [framePlugin(p)]
  });
}

// ---------- (a) ----------
makePanel({ box: [71, 15, 343, 108], x: [-1.6, 0.05], xTicks: xTicksAB, top: true,
  yL: { range: [-10, 1.08], ticks: aTopTicks, fmt: fmtInt, color: BLACK },
  series: [{ data: aJ, k: 1, axis: 'yL', color: BLACK }],
  arrows: [{ list: aArrJ, k: 1, axis: 'yL', color: BLACK }] });
makePanel({ box: [71, 117.7, 343, 211.7], x: [-1.6, 0.05], xTicks: xTicksAB,
  yL: { range: [-0.54e-7, 3.57e-7], ticks: aMidLTicks, fmt: fmtSci, color: BLACK },
  yR: { range: [-6.55e-7, 1.15e-7], ticks: aMidRTicks, fmt: fmtSci, color: RED },
  series: [{ data: aCO2, k: 1e-7, axis: 'yR', color: RED }, { data: aH2, k: 1e-7, axis: 'yL', color: BLACK }],
  arrows: [{ list: aArrCO2, k: 1e-7, axis: 'yR', color: RED }] });
makePanel({ box: [71, 222.3, 343, 314], x: [-1.6, 0.05], xTicks: xTicksAB, xLabels: true,
  yL: { range: [-0.49e-8, 2.5e-8], ticks: aBotTicks, fmt: fmtSci, color: BLACK },
  series: [{ data: aCH4, k: 1e-8, axis: 'yL', color: GREEN }],
  arrows: [{ list: aArrCH4, k: 1e-8, axis: 'yL', color: GREEN }] });

// ---------- (b) ----------
makePanel({ box: [487.3, 15, 760.7, 107.7], x: [-1.6, 0.05], xTicks: xTicksAB, top: true,
  yL: { range: [-2.5, 0.5], ticks: bTopTicks, fmt: fmtInt, color: BLACK },
  series: [{ data: bJ, k: 1, axis: 'yL', color: BLACK }] });
makePanel({ box: [487.3, 118.3, 760.7, 211.7], x: [-1.6, 0.05], xTicks: xTicksAB,
  yL: { range: [-1.05e-8, 1.0e-7], ticks: bMidLTicks, fmt: fmtSci, color: BLACK },
  yR: { range: [-2.58e-7, 0.56e-7], ticks: bMidRTicks, fmt: fmtSci, color: RED },
  series: [{ data: bCO2, k: 1e-7, axis: 'yR', color: RED }, { data: bH2, k: 1e-8, axis: 'yL', color: BLACK }],
  arrows: [{ list: bArrCO2, k: 1e-7, axis: 'yR', color: RED }, { list: bArrH2, k: 1e-8, axis: 'yL', color: BLACK }] });
makePanel({ box: [487.3, 221.7, 760.7, 314], x: [-1.6, 0.05], xTicks: xTicksAB, xLabels: true,
  yL: { range: [-7.5e-9, 1.77e-8], ticks: bBotLTicks, fmt: fmtSci, color: GREEN },
  yR: { range: [-2.5e-8, 1.0e-8], ticks: bBotRTicks, fmt: fmtSci, color: BLUE },
  series: [{ data: bCH4, k: 1e-9, axis: 'yL', color: GREEN }, { data: bCO, k: 1e-8, axis: 'yR', color: BLUE }],
  arrows: [{ list: bArrCH4, k: 1e-9, axis: 'yL', color: GREEN }, { list: bArrCO, k: 1e-8, axis: 'yR', color: BLUE }] });

// ---------- (c) ----------
makePanel({ box: [70.7, 400.7, 340.7, 490.7], x: [-2.108, 0.093], xTicks: xTicksC, top: true,
  yL: { range: [-17.3, 2.42], ticks: cTopTicks, fmt: fmtInt, color: BLACK },
  series: [{ data: cJ, k: 1, axis: 'yL', color: BLACK }] });
makePanel({ box: [70.7, 501.7, 340.7, 593.3], x: [-2.108, 0.093], xTicks: xTicksC,
  yL: { range: [-1.01e-8, 6.12e-8], ticks: cMidLTicks, fmt: fmtSci, color: BLACK },
  yR: { range: [-1.5e-7, 2.55e-8], ticks: cMidRTicks, fmt: fmtSci, color: RED },
  series: [{ data: cCO2, k: 1e-8, axis: 'yR', color: RED }, { data: cH2, k: 1e-8, axis: 'yL', color: BLACK }],
  arrows: [{ list: cArrCO2, k: 1e-8, axis: 'yR', color: RED }] });
makePanel({ box: [70.7, 604, 340.7, 696], x: [-2.108, 0.093], xTicks: xTicksC, xLabels: true,
  yL: { range: [-0.53e-9, 2.5e-9], ticks: cBotTicks, fmt: fmtSci, color: GREEN },
  series: [{ data: cCH4, k: 1e-9, axis: 'yL', color: GREEN }] });

// ---------- (d) ----------
makePanel({ box: [488.3, 459.3, 762.3, 576], x: [-1.607, 0.055], xTicks: xTicksAB, top: true,
  yL: { range: [-8, 1.0], ticks: dTopTicks, fmt: fmtInt, color: BLACK },
  series: [{ data: dJ, k: 1, axis: 'yL', color: BLACK }] });
makePanel({ box: [488.3, 580.7, 762.3, 699.3], x: [-1.687, 0.234], xTicks: xTicksD, xLabels: true,
  yL: { range: [-1.03e-8, 9.14e-8], ticks: dBotLTicks, fmt: fmtSci, color: BLACK },
  yR: { range: [-3.04e-9, 6.2e-9], ticks: dBotRTicks, fmt: fmtSci, color: GREEN },
  series: [{ data: dCH4, k: 1e-9, axis: 'yR', color: GREEN }, { data: dH2, k: 1e-8, axis: 'yL', color: BLACK }] });
</script>
</body>
</html>
